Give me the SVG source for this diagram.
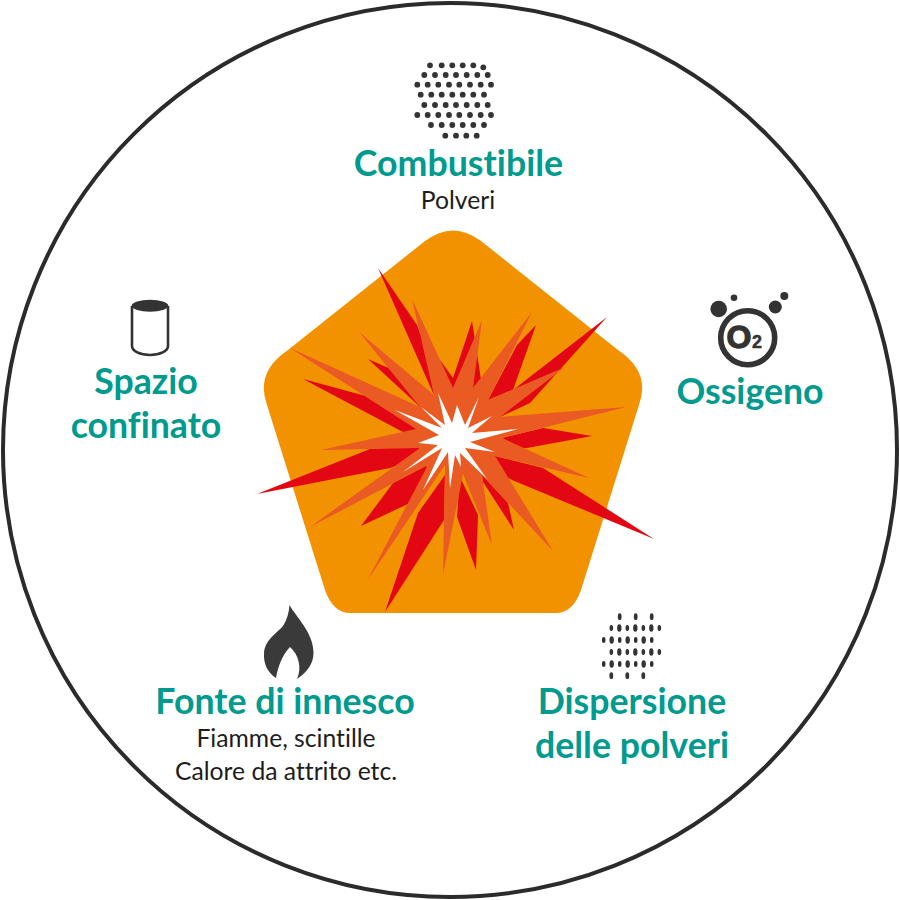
<svg xmlns="http://www.w3.org/2000/svg" width="900" height="900" viewBox="0 0 900 900">
<style>
.h{font-family:"Lato","Liberation Sans",sans-serif;font-weight:700;font-size:35.7px;fill:#009a8e;text-anchor:middle;font-variant-ligatures:none}
.s{font-family:"Lato","Liberation Sans",sans-serif;font-size:24.7px;fill:#1d1d1b;text-anchor:middle;font-variant-ligatures:none}
.d{fill:#333}
.r{fill:#e30613}
</style>
<rect width="900" height="900" fill="#fff"/>
<circle id="ring" cx="450" cy="450" r="447" fill="none" stroke="#2b2b2b" stroke-width="4"/>
<g id="pentagon">
<path fill="#f39200" d="M425 241Q453 220 481 241L618 350Q651 372 639 405L581 590Q573 613 556 613L350 613Q333 613 325 590L267 405Q255 372 288 350Z"/>
</g>
<g id="burst">
<g class="r">
<polygon points="378,268 417,325 445,400 433,393"/>
<polygon points="368,359 393,370 425,400 420,407"/>
<polygon points="303,379 362,395 425,415 420,432 403,432"/>
<polygon points="257,494 370,449 417,446 425,455 390,468"/>
<polygon points="361,526 393,483 427,465 423,490 410,503"/>
<polygon points="385,612 418,513 445,475 444,520"/>
<polygon points="476,570 457,517 460,477 478,515"/>
<polygon points="514,530 508,503 482,475 483,482"/>
<polygon points="654,539 543,468 495,456 490,468 512,480"/>
<polygon points="592,436 543,428 502,438 520,448 527,448"/>
<polygon points="607,317 513,390 500,417 530,403"/>
<polygon points="536,325 517,345 488,400 513,390"/>
<polygon points="472,321 453,378 440,360 445,392 473,388 481,380 477,353"/>
</g>
<polygon fill="#ea5b24" points="412,299 453,388 482,320 473,388 532,312 488,400 565,367 500,417 626,407 502,438 589,478 495,456 553,551 482,475 492,545 463,474 443,575 445,465 367,581 428,465 310,527 420,448 321,450 416,429 290,348 420,407 359,332 434,395"/>
<polygon fill="#fff" points="438,393 452,423 457,405 465,425 479,397 468,428 492,416 472,433 518,429 470,442 495,452 465,448 487,479 460,453 461,467 455,455 450,488 448,452 423,490 442,448 403,472 438,445 418,443 439,435 395,410 442,428 421,407 445,425"/>
</g>
<g id="combustibile">
<g class="d">
<circle cx="430" cy="65.3" r="2.9"/><circle cx="441.7" cy="65.3" r="2.9"/><circle cx="452.3" cy="65.3" r="2.9"/><circle cx="462.7" cy="65.3" r="2.9"/><circle cx="473.3" cy="65.3" r="2.9"/><circle cx="483.3" cy="67.3" r="2.9"/>
<circle cx="424.3" cy="75" r="2.9"/><circle cx="435" cy="75" r="2.9"/><circle cx="445.7" cy="75" r="2.9"/><circle cx="456" cy="75" r="2.9"/><circle cx="466.7" cy="75" r="2.9"/><circle cx="477.3" cy="75" r="2.9"/><circle cx="487.7" cy="75" r="2.9"/>
<circle cx="417.3" cy="84.7" r="2.9"/><circle cx="427.7" cy="84.7" r="2.9"/><circle cx="438.3" cy="84.7" r="2.9"/><circle cx="449" cy="84.7" r="2.9"/><circle cx="459.3" cy="84.7" r="2.9"/><circle cx="470" cy="84.7" r="2.9"/><circle cx="480.7" cy="84.7" r="2.9"/><circle cx="491" cy="84.7" r="2.9"/>
<circle cx="420.7" cy="94.7" r="2.9"/><circle cx="431.3" cy="94.7" r="2.9"/><circle cx="441.7" cy="94.7" r="2.9"/><circle cx="452.3" cy="94.7" r="2.9"/><circle cx="462.7" cy="94.7" r="2.9"/><circle cx="473.3" cy="94.7" r="2.9"/><circle cx="484" cy="94.7" r="2.9"/>
<circle cx="424.3" cy="105" r="2.9"/><circle cx="435" cy="105" r="2.9"/><circle cx="445.7" cy="105" r="2.9"/><circle cx="456" cy="105" r="2.9"/><circle cx="466.7" cy="105" r="2.9"/><circle cx="477.3" cy="105" r="2.9"/><circle cx="487.7" cy="105" r="2.9"/>
<circle cx="417.3" cy="115" r="2.9"/><circle cx="427.7" cy="115" r="2.9"/><circle cx="438.3" cy="115" r="2.9"/><circle cx="449" cy="115" r="2.9"/><circle cx="459.3" cy="115" r="2.9"/><circle cx="470" cy="115" r="2.9"/><circle cx="480.7" cy="115" r="2.9"/><circle cx="491" cy="115" r="2.9"/>
<circle cx="431" cy="125" r="2.9"/><circle cx="441.7" cy="125" r="2.9"/><circle cx="452.3" cy="125" r="2.9"/><circle cx="462.7" cy="125" r="2.9"/><circle cx="473.3" cy="125" r="2.9"/><circle cx="484" cy="125" r="2.9"/>
<circle cx="445.3" cy="135.7" r="2.9"/><circle cx="456" cy="135.7" r="2.9"/><circle cx="466.3" cy="135.7" r="2.9"/><circle cx="476.7" cy="135.7" r="2.9"/>
</g>
<text class="h" x="458.5" y="176">Combustibile</text>
<text class="s" x="458" y="209">Polveri</text>
</g>
<g id="ossigeno">
<circle cx="747.7" cy="337.7" r="27" fill="none" stroke="#333" stroke-width="5.6"/>
<circle class="d" cx="718.7" cy="309" r="8.3"/><circle class="d" cx="734" cy="297.7" r="3.3"/><circle class="d" cx="775.3" cy="307" r="6.5"/><circle class="d" cx="784.3" cy="296" r="4"/>
<text x="726.5" y="348" font-family="Liberation Sans,sans-serif" font-weight="700" font-size="32" fill="#333" stroke="#333" stroke-width="1.3">O</text>
<text x="752" y="348" font-family="Liberation Sans,sans-serif" font-weight="700" font-size="18" fill="#333" stroke="#333" stroke-width=".5">2</text>
<text class="h" x="750" y="404">Ossigeno</text>
</g>
<g id="dispersione">
<g class="d">
<ellipse cx="619.7" cy="616.7" rx="1.9" ry="3.4"/><ellipse cx="635.7" cy="616.7" rx="1.9" ry="3.4"/><ellipse cx="651.7" cy="616.7" rx="1.9" ry="3.4"/>
<ellipse cx="611.3" cy="628" rx="1.8" ry="3"/><ellipse cx="619.3" cy="628" rx="2.2" ry="3.8"/><ellipse cx="627.3" cy="628" rx="1.8" ry="3"/><ellipse cx="635.3" cy="628" rx="2.2" ry="3.8"/><ellipse cx="643.3" cy="628" rx="1.8" ry="3"/><ellipse cx="651.3" cy="628" rx="2.2" ry="3.8"/><ellipse cx="659.3" cy="628" rx="1.8" ry="3"/>
<ellipse cx="603.7" cy="640" rx="1.8" ry="3"/><ellipse cx="611.7" cy="640" rx="2.2" ry="3.8"/><ellipse cx="619.7" cy="640" rx="1.8" ry="3"/><ellipse cx="627.7" cy="640" rx="2.2" ry="3.8"/><ellipse cx="635.7" cy="640" rx="1.8" ry="3"/><ellipse cx="643.7" cy="640" rx="2.2" ry="3.8"/><ellipse cx="651.7" cy="640" rx="1.8" ry="3"/>
<ellipse cx="611.3" cy="652" rx="1.8" ry="3"/><ellipse cx="619.3" cy="652" rx="2.2" ry="3.8"/><ellipse cx="627.3" cy="652" rx="1.8" ry="3"/><ellipse cx="635.3" cy="652" rx="2.2" ry="3.8"/><ellipse cx="643.3" cy="652" rx="1.8" ry="3"/><ellipse cx="651.3" cy="652" rx="2.2" ry="3.8"/><ellipse cx="659.3" cy="652" rx="1.8" ry="3"/>
<ellipse cx="603.7" cy="664" rx="1.8" ry="3"/><ellipse cx="611.7" cy="664" rx="2.2" ry="3.8"/><ellipse cx="619.7" cy="664" rx="1.8" ry="3"/><ellipse cx="627.7" cy="664" rx="2.2" ry="3.8"/><ellipse cx="635.7" cy="664" rx="1.8" ry="3"/><ellipse cx="643.7" cy="664" rx="2.2" ry="3.8"/><ellipse cx="651.7" cy="664" rx="1.8" ry="3"/>
<ellipse cx="611.3" cy="675.7" rx="1.9" ry="3.4"/><ellipse cx="627.3" cy="675.7" rx="1.9" ry="3.4"/><ellipse cx="643.3" cy="675.7" rx="1.9" ry="3.4"/>
</g>
<text class="h" x="632" y="714">Dispersione</text>
<text class="h" x="632" y="758">delle polveri</text>
</g>
<g id="fonte">
<path fill="#3a3a3a" d="M289.5 605C296 617 313 632 313.5 652C314 664 306 673 297 679C302 668 299 655 290 647C282 655 278 667 276 678C268 673 263.5 664 264 654C264.5 640 276 634 283 626C287 620 289 612 289.5 605Z"/>
<text class="h" x="285" y="714">Fonte di innesco</text>
<text class="s" x="286" y="747">Fiamme, scintille</text>
<text class="s" x="286" y="780">Calore da attrito etc.</text>
</g>
<g id="spazio">
<path fill="none" stroke="#333" stroke-width="2.6" d="M132 306V346C132 351 140 355 150 355S168 351 168 346V306"/>
<ellipse class="d" cx="150" cy="305.7" rx="18.3" ry="6"/>
<text class="h" x="146" y="394">Spazio</text>
<text class="h" x="146" y="438">confinato</text>
</g>
<g id="connectors"/>
</svg>
